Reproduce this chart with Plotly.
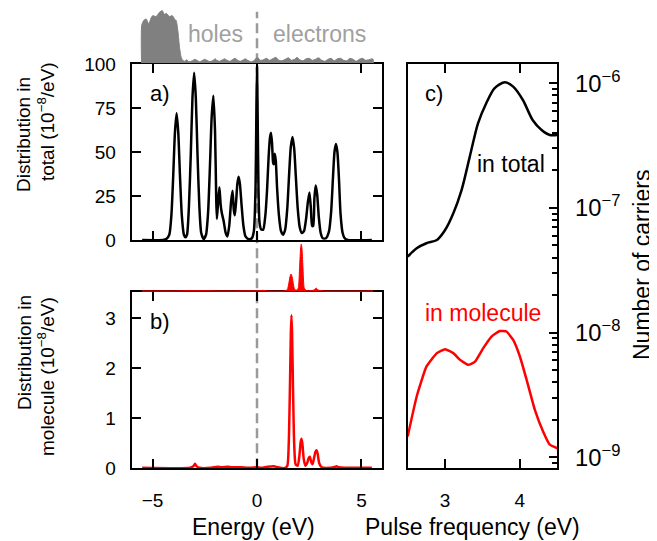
import plotly.graph_objects as go

W, H = 657, 541
OFF = 8  # the page body has an 8 px margin; coordinates below are page pixels
FONT = "Liberation Sans, Arial, Helvetica, sans-serif"

# ---------------- data ----------------
# top strip: carrier distribution (total), arbitrary units
strip_total_x = [-5.53, -5.52, -5.42, -5.31, -5.18, -5.08, -4.99, -4.83, -4.67, -4.54, -4.43, -4.35,
                 -4.19, -4.06, -3.95, -3.87, -3.79, -3.71, -3.63, -3.55, -3.45, -3.37, -3.25, -3.1,
                 -2.98, -2.88, -2.75, -2.6, -2.5, -2.4, -2.25, -2.1, -2.0, -1.92, -1.8, -1.65, -1.55,
                 -1.44, -1.3, -1.15, -1.05, -0.96, -0.8, -0.65, -0.55, -0.45, -0.3, -0.15, -0.05,
                 0.05, 0.15, 0.3, 0.45, 0.6, 0.75, 0.9, 1.05, 1.2, 1.35, 1.5, 1.65, 1.8, 1.92, 2.05,
                 2.2, 2.35, 2.5, 2.65, 2.8, 2.95, 3.1, 3.25, 3.4, 3.55, 3.7, 3.85, 4.0, 4.15, 4.3,
                 4.45, 4.6, 4.75, 4.9, 5.05, 5.2, 5.35, 5.5, 5.56, 5.57]
strip_total_y = [0, 38, 43, 44.3, 39.3, 45, 47.7, 46.7, 51, 52.7, 48.7, 50,
                 46.7, 47.7, 44.3, 42.7, 32.7, 16, 6, 2.7, 2, 3.5, 1.5, 2.5,
                 4, 3, 1.5, 3, 4, 3, 1.5, 3, 4.5, 3, 2, 3.5, 4.5,
                 3, 2, 4, 5, 3.5, 2, 3.5, 4.5, 3, 1.5, 2.5, 5,
                 5.5, 3, 3.5, 5, 3, 4.5, 6, 3, 2.5, 4, 5.5, 3, 4, 6, 3.5,
                 2.5, 4.5, 5, 3, 4, 5.5, 3, 2, 4, 5, 2.5, 4.5, 5, 3, 2.5,
                 5, 4, 2, 4, 5, 3, 3.5, 4.5, 4, 0]

# strip above panel b: carrier distribution in molecule, arbitrary units
strip_mol_x = [-5.52, -4.0, -3.0, -1.5, 0.0, 0.3, 0.5, 1.3, 1.45, 1.52, 1.58, 1.63, 1.68, 1.74, 1.8,
               1.9, 1.98, 2.04, 2.09, 2.12, 2.15, 2.2, 2.26, 2.35, 2.5, 2.7, 2.84, 2.95, 3.2, 5.56]
strip_mol_y = [0.8, 0.8, 1.0, 0.8, 0.9, 1.3, 0.8, 0.8, 2, 8, 15, 17.7, 15, 8, 2.5,
               1.5, 4, 25, 44, 47.5, 44, 25, 4, 1.3, 1, 1.5, 3.5, 1.5, 0.8, 0.8]

# panel a: distribution in total (1e-8 / eV)
energy_total = [-5.5, -4.5, -4.35, -4.2, -4.1, -4.01, -3.93, -3.85, -3.77, -3.69, -3.6, -3.5, -3.42,
                -3.35, -3.26, -3.17, -3.09, -3.01, -2.93, -2.85, -2.76, -2.67, -2.55,
                -2.44, -2.34, -2.25, -2.17, -2.09, -2.01, -1.95, -1.92, -1.86, -1.80, -1.74, -1.68,
                -1.6, -1.5, -1.42, -1.33, -1.24, -1.17, -1.11, -1.06, -1.0, -0.94, -0.88, -0.82,
                -0.74, -0.65, -0.55, -0.4, -0.25, -0.15, -0.07, -0.03, 0.0, 0.03, 0.07, 0.12, 0.2,
                0.3, 0.4, 0.48, 0.56, 0.62, 0.67, 0.72, 0.77, 0.8, 0.85, 0.9, 0.96, 1.05, 1.15,
                1.25, 1.35, 1.45, 1.55, 1.62, 1.70, 1.78, 1.86, 1.95, 2.05, 2.15, 2.25, 2.35, 2.43,
                2.51, 2.58, 2.64, 2.69, 2.75, 2.81, 2.88, 2.96, 3.05, 3.15, 3.3, 3.45, 3.55, 3.64,
                3.71, 3.78, 3.85, 3.92, 4.0, 4.1, 4.2, 4.35, 5.5]
dist_total = [0, 0, 0.5, 3, 14, 37, 61, 72, 61, 37, 14, 3, 1.5,
              3, 19, 49, 81, 95, 81, 49, 19, 4, 0.5,
              3, 16, 43, 70, 82, 62, 22, 12, 22, 30, 20, 15,
              11, 4, 2, 8, 22, 28, 17, 14, 22, 32, 36, 32,
              20, 8, 2, 0.5, 1, 5, 30, 72, 98.5, 72, 30, 10, 6,
              6, 14, 28, 48, 58, 61, 55, 44, 43, 49, 45, 30, 14, 5,
              3, 6, 18, 40, 53, 58.5, 52, 36, 18, 7, 4, 5, 12, 21,
              27, 18, 8, 8, 24, 31, 26, 13, 4, 1, 1, 5, 16, 36,
              50, 54.5, 50, 36, 15, 4, 1, 0, 0]

# panel b: distribution in molecule (1e-8 / eV)
energy_mol = [-5.5, -3.2, -3.05, -2.97, -2.89, -2.75, -2.2, -1.9, -1.7, -1.4, -1.2, -0.8, -0.3,
              0.0, 0.2, 0.5, 0.8, 1.0, 1.3, 1.45, 1.52, 1.58, 1.62, 1.65, 1.68, 1.72, 1.78,
              1.85, 1.95, 2.03, 2.09, 2.13, 2.17, 2.24, 2.32, 2.4, 2.47, 2.53, 2.6, 2.66,
              2.73, 2.8, 2.85, 2.9, 2.98, 3.1, 3.5, 3.75, 3.81, 3.9, 4.2, 5.5]
dist_mol = [0.01, 0.01, 0.04, 0.09, 0.04, 0.01, 0.01, 0.03, 0.02, 0.03, 0.02, 0.02, 0.01,
            0.02, 0.01, 0.03, 0.04, 0.02, 0.0, 0.05, 0.5, 1.7, 2.7, 3.06, 2.7, 1.7, 0.5,
            0.08, 0.05, 0.25, 0.52, 0.59, 0.5, 0.18, 0.05, 0.1, 0.2, 0.23, 0.12, 0.08,
            0.2, 0.33, 0.36, 0.3, 0.1, 0.02, 0.01, 0.03, 0.04, 0.02, 0.01, 0.01]

# panel c: number of carriers vs pulse frequency (eV)
freq_total = [2.5, 2.62, 2.75, 2.89, 3.0, 3.11, 3.22, 3.33, 3.44, 3.55, 3.66, 3.80, 3.91,
              4.04, 4.17, 4.29, 4.40, 4.5]
carriers_total = [4.07e-8, 4.75e-8, 5.21e-8, 5.53e-8, 6.65e-8, 9.06e-8, 1.39e-7, 2.58e-7,
                  4.78e-7, 6.92e-7, 9.12e-7, 1.02e-6, 9.40e-7, 7.35e-7, 5.08e-7, 4.22e-7,
                  3.85e-7, 3.85e-7]
freq_mol = [2.5, 2.62, 2.75, 2.89, 3.0, 3.11, 3.2, 3.31, 3.40, 3.51, 3.62, 3.73, 3.82, 3.91,
            4.0, 4.09, 4.2, 4.31, 4.40, 4.5]
carriers_mol = [1.47e-9, 3.07e-9, 5.33e-9, 6.84e-9, 7.36e-9, 6.84e-9, 6.04e-9, 5.51e-9,
                5.85e-9, 7.50e-9, 9.29e-9, 1.03e-8, 1.02e-8, 8.73e-9, 6.43e-9, 4.18e-9,
                2.40e-9, 1.61e-9, 1.26e-9, 1.18e-9]

energy_ticks = [-5, 0, 5]
total_ticks = [0, 25, 50, 75, 100]
mol_ticks = [0, 1, 2, 3]
freq_ticks = [3, 4]

# ---------------- layout helpers (page pixels -> paper fractions) ----------------
def fx(x):
    return (x - OFF) / W

def fy(y):
    return (H - (y - OFF)) / H

AB_DOM = [fx(131.7), fx(382.3)]
C_DOM = [fx(407.7), fx(557.3)]

fig = go.Figure()

fig.add_trace(go.Scatter(x=strip_total_x, y=strip_total_y, xaxis="x3", yaxis="y3", mode="lines",
                         line=dict(color="#808080", width=1, shape="spline", smoothing=0.6),
                         fill="tozeroy", fillcolor="#808080", hoverinfo="skip"))
fig.add_trace(go.Scatter(x=strip_mol_x, y=strip_mol_y, xaxis="x4", yaxis="y4", mode="lines",
                         line=dict(color="#ff0000", width=1, shape="spline", smoothing=0.6),
                         fill="tozeroy", fillcolor="#ff0000", hoverinfo="skip"))
fig.add_trace(go.Scatter(x=energy_total, y=dist_total, xaxis="x2", yaxis="y2", mode="lines",
                         line=dict(color="black", width=2.5, shape="spline", smoothing=0.6)))
fig.add_trace(go.Scatter(x=energy_mol, y=dist_mol, xaxis="x", yaxis="y", mode="lines",
                         line=dict(color="#ff0000", width=2.5, shape="spline", smoothing=0.6)))
fig.add_trace(go.Scatter(x=freq_total, y=carriers_total, xaxis="x5", yaxis="y5", mode="lines",
                         line=dict(color="black", width=2.5, shape="spline", smoothing=0.8)))
fig.add_trace(go.Scatter(x=freq_mol, y=carriers_mol, xaxis="x5", yaxis="y5", mode="lines",
                         line=dict(color="#ff0000", width=2.5, shape="spline", smoothing=0.4)))

tickfont = dict(family=FONT, size=19, color="black")
common = dict(showline=True, linecolor="black", linewidth=2, ticks="inside", ticklen=9,
              tickwidth=2, tickcolor="black", mirror="ticks", showgrid=False, zeroline=False,
              tickfont=tickfont, automargin=False)

fig.update_layout(
    width=W, height=H, autosize=False,
    margin=dict(l=0, r=0, t=0, b=0, pad=0),
    paper_bgcolor="white", plot_bgcolor="rgba(0,0,0,0)",
    showlegend=False,
    font=dict(family=FONT, color="black"),
    xaxis=dict(domain=AB_DOM, range=[-6, 6], anchor="y", tickvals=energy_ticks,
               ticklabelstandoff=14, **common),
    xaxis2=dict(domain=AB_DOM, matches="x", anchor="y2", tickvals=energy_ticks,
                showticklabels=False, **common),
    xaxis3=dict(domain=AB_DOM, matches="x", anchor="y3", visible=False),
    xaxis4=dict(domain=AB_DOM, matches="x", anchor="y4", visible=False),
    xaxis5=dict(domain=C_DOM, range=[2.5, 4.5], anchor="y5", tickvals=freq_ticks,
                ticklabelstandoff=14, **common),
    yaxis=dict(domain=[fy(468.3), fy(291.7)], range=[0, 3.53], anchor="x", tickvals=mol_ticks,
               ticklabelstandoff=10, **common),
    yaxis2=dict(domain=[fy(240), fy(64)], range=[0, 100], anchor="x2", tickvals=total_ticks,
                ticklabelstandoff=10, **common),
    yaxis3=dict(domain=[fy(63.3), fy(8.1)], range=[0, 55.2], anchor="x3", visible=False),
    yaxis4=dict(domain=[fy(291.7), fy(243)], range=[0, 48.7], anchor="x4", visible=False),
    yaxis5=dict(domain=[fy(468.3), fy(64)], type="log", range=[-9.089, -5.845], anchor="x5",
                side="right", showline=True, linecolor="black", linewidth=2, mirror=True,
                ticks="inside", ticklen=8, tickwidth=2, tickcolor="black", showgrid=False,
                zeroline=False, dtick=1, exponentformat="power", tickfont=tickfont,
                ticklabelstandoff=12, automargin=False,
                minor=dict(ticks="inside", ticklen=5, tickwidth=1.5, tickcolor="black",
                           dtick="D1", showgrid=False)),
)

# dashed Fermi-level line through the energy panels
fig.add_shape(type="line", xref="x", yref="paper", x0=0, x1=0, y0=fy(468.3), y1=fy(11.7),
              line=dict(color="#9a9a9a", width=2.5, dash="10px,5px"), layer="below")

def ann(text, x, y, size, color="black", angle=0, xanchor="center"):
    fig.add_annotation(text=text, x=fx(x), y=fy(y), xref="paper", yref="paper",
                       showarrow=False, textangle=angle, xanchor=xanchor, yanchor="middle",
                       font=dict(family=FONT, size=size, color=color))

ann("holes", 215.5, 34, 23, "#a0a0a0")
ann("electrons", 319, 34, 23, "#a0a0a0")
ann("a)", 160, 93, 22)
ann("b)", 160, 321, 22)
ann("c)", 434, 93, 22)
ann("in total", 547, 164, 23, xanchor="right")
ann("in molecule", 482.5, 313, 23, "#ff0000")
ann("Energy (eV)", 253.3, 527, 23)
ann("Pulse frequency (eV)", 472.5, 527, 23)
ann("Number of carriers", 642, 265, 23, angle=-90)
ann("Distribution in", 24, 135, 19, angle=-90)
ann("total (10<sup>\u22128</sup>/eV)", 46, 122, 19, angle=-90)
ann("Distribution in", 24, 353, 19, angle=-90)
ann("molecule (10<sup>\u22128</sup>/eV)", 46, 377, 19, angle=-90)

fig.write_html("out.html")
